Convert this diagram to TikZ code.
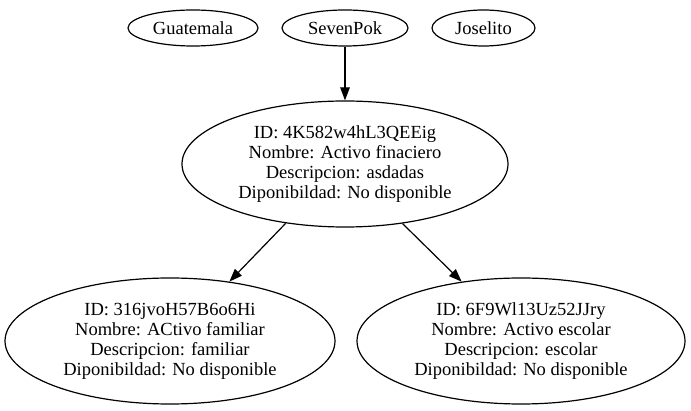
\documentclass[tikz,border=0pt]{standalone}
\usepackage{fontspec}
\setmainfont{Liberation Serif}
\usetikzlibrary{shapes.geometric,arrows.meta}
\tikzset{
  gnode/.style={draw, ellipse, inner sep=0pt, align=center, line width=1.2pt,
    font=\fontsize{18.5}{20}\selectfont},
  gedge/.style={line width=1.2pt, -{Triangle[length=13pt,width=9.5pt]}}
}
\begin{document}
\begin{tikzpicture}[x=1pt,y=-1pt]
\useasboundingbox (0,0) rectangle (691,411);
\node[gnode, minimum width=130pt, minimum height=36pt] (gua) at (193,28) {Guatemala};
\node[gnode, minimum width=126pt, minimum height=36pt] (sev) at (345,28) {SevenPok};
\node[gnode, minimum width=103pt, minimum height=36pt] (jos) at (483.5,28) {Joselito};
\node[gnode, minimum width=326pt, minimum height=126pt] (main) at (345,164)
  {ID: 4K582w4hL3QEEig\\Nombre: Activo finaciero\\Descripcion: asdadas\\Diponibildad: No disponible};
\node[gnode, minimum width=330pt, minimum height=126pt] (left) at (170,341)
  {ID: 316jvoH57B6o6Hi\\Nombre: ACtivo familiar\\Descripcion: familiar\\Diponibildad: No disponible};
\node[gnode, minimum width=328pt, minimum height=126pt] (right) at (521,341)
  {ID: 6F9Wl13Uz52JJry\\Nombre: Activo escolar\\Descripcion: escolar\\Diponibildad: No disponible};
\draw[gedge] (sev.south) -- (main.north);
\draw[gedge] (main.225.5) -- (left.45.5);
\draw[gedge] (main.314.5) -- (right.135);
\end{tikzpicture}
\end{document}
